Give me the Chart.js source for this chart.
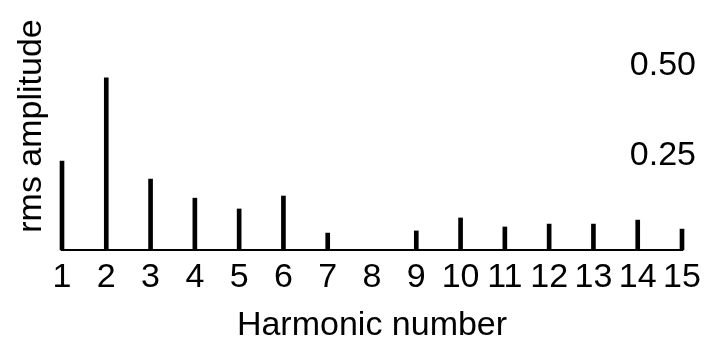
<!DOCTYPE html>
<html>
<head>
<meta charset="utf-8">
<script src="https://cdn.jsdelivr.net/npm/chart.js@4/dist/chart.umd.min.js"></script>
<style>
  html, body { margin: 0; padding: 0; background: #fff; }
</style>
</head>
<body>
<canvas id="harmonicChart" width="715" height="344"></canvas>
<script>
// harmonic numbers along the bottom
const harmonics = ['1', '2', '3', '4', '5', '6', '7', '8', '9', '10', '11', '12', '13', '14', '15'];

// rms amplitude of each harmonic (8th is missing)
const rmsAmplitude = [0.247, 0.478, 0.197, 0.144, 0.114, 0.15, 0.047, 0, 0.053, 0.089, 0.064, 0.072, 0.072, 0.083, 0.058];

// the only two values labelled on the amplitude scale
const amplitudeTicks = [0.25, 0.5];

const ink = '#000';
const bigFont = { family: "'Liberation Sans', Arial, sans-serif", size: 34, lineHeight: 1 };

// drop the half-label padding chart.js reserves above / below vertical axes
const noPad = (scale) => { scale.paddingTop = 0; scale.paddingBottom = 0; };

const ctx = document.getElementById('harmonicChart').getContext('2d');

new Chart(ctx, {
  type: 'bar',
  data: {
    labels: harmonics,
    datasets: [{
      data: rmsAmplitude,
      backgroundColor: ink,
      borderWidth: 0,
      barThickness: 4,
      clip: false,
      yAxisID: 'y'
    }]
  },
  options: {
    responsive: false,
    animation: false,
    devicePixelRatio: 1,
    layout: { padding: { left: 0, right: 5, top: 2, bottom: 0 } },
    plugins: {
      legend: { display: false },
      tooltip: { enabled: false }
    },
    scales: {
      x: {
        type: 'category',
        offset: false,
        grid: { display: false, drawTicks: false },
        border: { display: true, color: ink, width: 2 },
        ticks: { color: ink, font: bigFont, padding: 11, maxRotation: 0, autoSkip: false },
        title: {
          display: true,
          text: 'Harmonic number',
          color: ink,
          font: bigFont,
          padding: { top: 3, bottom: 1 }
        }
      },
      y: {
        position: 'right',
        min: 0,
        max: 0.689,
        afterBuildTicks: (scale) => { scale.ticks = amplitudeTicks.map(v => ({ value: v })); },
        afterFit: noPad,
        grid: { display: false, drawTicks: false },
        border: { display: false },
        ticks: {
          mirror: true,
          padding: 14,
          labelOffset: -4,
          color: ink,
          font: bigFont,
          callback: (v) => Number(v).toFixed(2)
        }
      },
      // left axis only carries the rotated title
      yTitle: {
        type: 'linear',
        position: 'left',
        afterFit: noPad,
        grid: { display: false, drawTicks: false },
        border: { display: false },
        ticks: { display: false },
        title: {
          display: true,
          text: 'rms amplitude',
          color: ink,
          font: bigFont,
          padding: { top: 14.5, bottom: 13.5 }
        }
      }
    }
  }
});
</script>
</body>
</html>
